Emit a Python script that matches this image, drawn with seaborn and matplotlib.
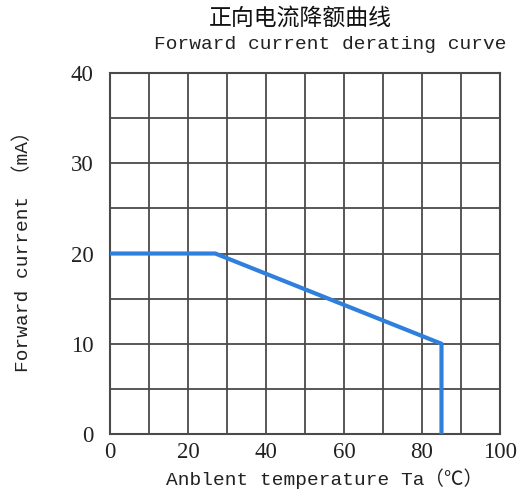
import matplotlib
matplotlib.use("Agg")
import matplotlib.pyplot as plt
import seaborn as sns
import pandas as pd
from matplotlib.ticker import MultipleLocator

# derating curve
temperature = [0, 27, 85, 85]
current = [20, 20, 10, 0]
x_ticks = [0, 20, 40, 60, 80, 100]
y_ticks = [0, 10, 20, 30, 40]

title_cn = "正向电流降额曲线"
title_en = "Forward current derating curve"
x_label = "Anblent temperature Ta（℃）"
y_label = "Forward current （mA）"

sns.set_style("white")
plt.rcParams['font.family'] = ['Liberation Serif', 'Noto Sans CJK SC']

mono = ['Liberation Mono', 'Noto Sans CJK SC']
grid_col = '#4a4a4a'

df = pd.DataFrame({'Ta': temperature, 'IF': current})

fig = plt.figure(figsize=(5.2, 4.95), dpi=100)
ax = fig.add_axes([0.2115, 0.1232, 0.75, 0.7293])

# estimator=None so the two points at 85 C are kept as they are
sns.lineplot(data=df, x='Ta', y='IF', sort=False, estimator=None,
             color='#2f80dc', linewidth=3, ax=ax, zorder=3)

ax.set_xlim(0, 100)
ax.set_ylim(0, 40)
ax.set_xticks(x_ticks)
ax.set_yticks(y_ticks)
ax.xaxis.set_minor_locator(MultipleLocator(10))
ax.yaxis.set_minor_locator(MultipleLocator(5))
ax.grid(True, which='both', color=grid_col, linewidth=1.3)
ax.tick_params(which='both', length=0, labelsize=16.5, colors='#222222')
ax.tick_params(axis='x', pad=6)
ax.tick_params(axis='y', pad=12)
for s in ax.spines.values():
    s.set_color(grid_col)
    s.set_linewidth(1.5)

ax.set_xlabel(x_label, family=mono, fontsize=14, color='#222222')
ax.set_ylabel(y_label, family=mono, fontsize=14, color='#222222')
ax.xaxis.set_label_coords(0.55, -0.095)
ax.yaxis.set_label_coords(-0.2, 0.52)

fig.text(0.577, 0.963, title_cn, family=['Noto Sans CJK SC'], fontsize=16.5,
         ha='center', va='center', color='#111111')
fig.text(0.635, 0.91, title_en, family=mono, fontsize=14,
         ha='center', va='center', color='#222222')

fig.savefig('out.png', dpi=100)
